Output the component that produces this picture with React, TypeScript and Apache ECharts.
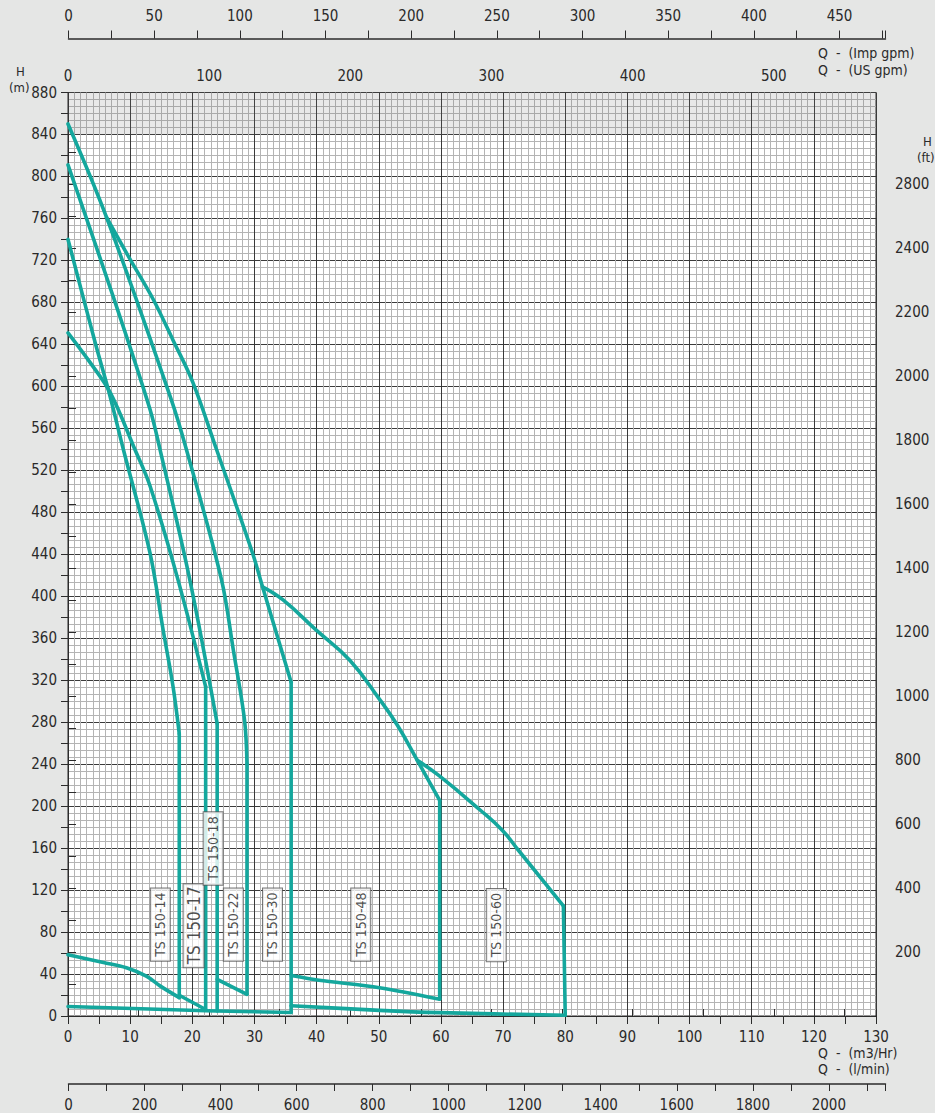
import React, { useEffect, useRef } from "react";
import * as echarts from "echarts";

// ---------- data (Q in m3/h, H in m) ----------
// upper (max-stage) curves
const ts14Upper = [[0, 740], [4.4, 641], [6.7, 592], [8.9, 540], [13.2, 441], [15.3, 368], [16.9, 314], [17.9, 269]];
const ts17Upper = [[0, 651], [3.4, 624], [6.8, 594], [10.75, 540], [13.2, 505], [17.7, 415.6], [22.15, 313.7]];
const ts18Upper = [[0, 811], [7.3, 685], [13.2, 578], [14.8, 540], [19.6, 415.6], [24.0, 278.7]];
const ts22Upper = [[0, 850], [6.2, 761], [16.6, 587.6], [19.05, 539.8], [24.7, 415.6], [26.6, 348.8], [28.4, 282], [28.8, 240]];
const ts30Upper = [[6.2, 761], [9.95, 721.4], [13.7, 683], [16.9, 644], [20.1, 603.6], [23.9, 539.8], [29.7, 441], [31.3, 409], [35.9, 318]];
const ts48Upper = [[31.3, 409], [34.6, 396.5], [39.9, 367.9], [45.3, 339.2], [50.1, 302], [53.0, 277], [56.2, 243.6], [59.8, 205.4]];
const ts60Upper = [[56.2, 243.6], [59.7, 229], [66.3, 196.3], [69.9, 176.8], [72.5, 157.7], [79.7, 105]];
// right-hand limits (max flow)
const ts14Limit = [[17.9, 269], [17.9, 17.5]];
const ts17Limit = [[22.15, 313.7], [22.15, 6.2]];
const ts18Limit = [[24.0, 278.7], [24.0, 4.8]];
const ts22Limit = [[28.8, 240], [28.8, 20.7]];
const ts30Limit = [[35.9, 318], [35.9, 3.3]];
const ts48Limit = [[59.8, 205.4], [59.8, 16]];
const ts60Limit = [[79.7, 105], [80.0, 0.7]];
// lower (min-stage) curves
const ts14Lower = [[0, 58.3], [5.7, 51], [9.4, 46], [12.6, 38], [14.8, 28.7], [17.9, 17.5]];
const ts17Lower = [[17.9, 19.8], [22.15, 6.2]];
const baseLower = [[0, 9], [22.15, 5], [24.0, 4.8], [35.9, 3.3]];
const ts22Lower = [[24.0, 35], [28.8, 20.7]];
const ts48Lower = [[35.9, 38.5], [40.4, 34.1], [50.1, 27], [59.8, 16]];
const ts60Lower = [[35.9, 9.8], [50.1, 5.4], [59.8, 3.2], [80.0, 0.7]];

const modelNames = ["TS 150-14", "TS 150-17", "TS 150-18", "TS 150-22", "TS 150-30", "TS 150-48", "TS 150-60"];
const modelLabelQ = [14.85, 20.2, 23.35, 26.6, 32.9, 47.1, 68.9];
const modelLabelH = [87, 86, 159.6, 87, 87, 87, 86.5];

const ftTickValues = [100, 200, 300, 400, 500, 600, 700, 800, 900, 1000, 1100, 1200, 1300, 1400, 1500, 1600, 1700, 1800, 1900, 2000, 2100, 2200, 2300, 2400, 2500, 2600, 2700];
const ftLabelValues = [200, 400, 600, 800, 1000, 1200, 1400, 1600, 1800, 2000, 2200, 2400, 2600];
const ftLabelTexts = ["200", "400", "600", "800", "1000", "1200", "1400", "1600", "1800", "2000", "2200", "2400", "2800"];

// ---------- styles ----------
const FONT = "'Liberation Sans Narrow', 'DejaVu Sans Condensed', 'Roboto Condensed', 'Liberation Sans', sans-serif";
const TEXT = "#2a2a2a";
const AXIS = "#2b2b2b";
const TEAL = "#14a79d";
const BG = "#e5e6e5";

const curve = (data: number[][], smooth: number | boolean = false) => ({
  type: "line",
  xAxisIndex: 0,
  yAxisIndex: 0,
  data,
  smooth,
  symbol: "none",
  showSymbol: false,
  silent: true,
  z: 3,
  lineStyle: { color: TEAL, width: 3.6, cap: "round", join: "round" },
});

const labelStyle = { fontFamily: FONT, fontSize: 15, color: TEXT };

export default function App() {
  const ref = useRef<HTMLDivElement>(null);
  useEffect(() => {
    const chart = echarts.init(ref.current!, null, { renderer: "svg", width: 935, height: 1113 });
    const option: any = {
      animation: false,
      backgroundColor: BG,
      grid: [
        { left: 68, right: 59, top: 92.5, bottom: 97, show: true, backgroundColor: "#ffffff", borderColor: AXIS, borderWidth: 1 },
        { left: 68.5, right: 49.5, top: 37.5, height: 1 },
        { left: 68.5, right: 49.5, top: 1083, height: 1 },
      ],
      xAxis: [
        {
          type: "value", gridIndex: 0, position: "bottom", min: 0, max: 130, interval: 5,
          axisLine: { show: true, lineStyle: { color: AXIS } },
          axisTick: { show: true, length: 8, lineStyle: { color: AXIS } },
          axisLabel: { ...labelStyle, margin: 13, formatter: (v: number) => (v % 10 === 0 ? String(v) : "") },
          splitLine: { show: false },
        },
        {
          type: "value", gridIndex: 0, position: "bottom", min: 0, max: 130, interval: 10,
          axisLine: { show: false }, axisTick: { show: false }, axisLabel: { show: false },
          splitLine: { show: true, lineStyle: { color: "#3a3a3a", width: 1 } },
          minorTick: { show: false, splitNumber: 10 },
          minorSplitLine: { show: true, lineStyle: { color: "#b4b4b4", width: 1 } },
        },
        {
          type: "value", gridIndex: 0, position: "top", min: 0, max: 572.4, interval: 50,
          axisLine: { show: false },
          axisTick: { show: true, length: 7, lineStyle: { color: AXIS } },
          axisLabel: { ...labelStyle, margin: 9, formatter: (v: number) => (v % 100 === 0 && v <= 500 ? String(v) : "") },
          splitLine: { show: false },
        },
        {
          type: "value", gridIndex: 1, position: "top", min: 0, max: 476.8, interval: 25,
          axisLine: { show: true, lineStyle: { color: AXIS, width: 1.5 } },
          axisTick: { show: true, length: 8, lineStyle: { color: AXIS } },
          axisLabel: { ...labelStyle, margin: 14, formatter: (v: number) => (v % 50 === 0 && v <= 450 ? String(v) : "") },
          splitLine: { show: false },
        },
        {
          type: "value", gridIndex: 2, position: "bottom", min: 0, max: 2149, interval: 100,
          axisLine: { show: true, lineStyle: { color: AXIS, width: 1.5 } },
          axisTick: { show: true, length: 7, lineStyle: { color: AXIS } },
          axisLabel: { ...labelStyle, margin: 13, formatter: (v: number) => (v % 200 === 0 && v <= 2000 ? String(v) : "") },
          splitLine: { show: false },
        },
      ],
      yAxis: [
        {
          type: "value", gridIndex: 0, position: "left", min: 0, max: 880, interval: 20,
          axisLine: { show: true, lineStyle: { color: AXIS } },
          axisTick: { show: true, length: 7, lineStyle: { color: AXIS } },
          axisLabel: { ...labelStyle, margin: 11, formatter: (v: number) => (v % 40 === 0 ? String(v) : "") },
          splitLine: { show: false },
        },
        {
          type: "value", gridIndex: 0, position: "left", min: 0, max: 880, interval: 40,
          axisLine: { show: false }, axisTick: { show: false }, axisLabel: { show: false },
          splitLine: { show: true, lineStyle: { color: "#3a3a3a", width: 1 } },
          minorTick: { show: false, splitNumber: 6 },
          minorSplitLine: { show: true, lineStyle: { color: "#b4b4b4", width: 1 } },
        },
        {
          type: "value", gridIndex: 0, position: "right", min: 0, max: 880 / 0.3048,
          axisLine: { show: true, lineStyle: { color: AXIS } },
          axisTick: { show: true, length: 8, customValues: ftTickValues, lineStyle: { color: AXIS } },
          axisLabel: {
            ...labelStyle, margin: 19, customValues: ftLabelValues,
            formatter: (v: number) => {
              const i = ftLabelValues.indexOf(Math.round(v));
              return i >= 0 ? ftLabelTexts[i] : "";
            },
          },
          splitLine: { show: false },
        },
        { type: "value", gridIndex: 1, show: false, min: 0, max: 1 },
        { type: "value", gridIndex: 2, show: false, min: 0, max: 1 },
      ],
      series: [
        {
          type: "line", xAxisIndex: 0, yAxisIndex: 0, data: [], silent: true, z: 1,
          markArea: {
            silent: true,
            itemStyle: { color: "rgba(110,110,110,0.16)" },
            data: [[{ yAxis: 840 }, { yAxis: 880 }]],
          },
        },
        curve(ts14Upper, 0.35),
        curve(ts17Upper, 0.35),
        curve(ts18Upper, 0.35),
        curve(ts22Upper, 0.35),
        curve(ts30Upper, 0.35),
        curve(ts48Upper, 0.45),
        curve(ts60Upper, 0.45),
        curve(ts14Limit),
        curve(ts17Limit),
        curve(ts18Limit),
        curve(ts22Limit),
        curve(ts30Limit),
        curve(ts48Limit),
        curve(ts60Limit),
        curve(ts14Lower, 0.35),
        curve(ts17Lower),
        curve(baseLower),
        curve(ts22Lower),
        curve(ts48Lower, 0.3),
        curve(ts60Lower, 0.3),
        {
          type: "scatter", xAxisIndex: 0, yAxisIndex: 0, symbolSize: 0, silent: true, z: 10,
          data: modelNames.map((n, i) => ({
            name: n,
            value: [modelLabelQ[i], modelLabelH[i]],
            label: i === 1 ? { fontSize: 17, padding: [2, 2, 1, 3] } : undefined,
          })),
          label: {
            show: true, position: "inside", rotate: 90, formatter: "{b}",
            fontFamily: FONT, fontSize: 14, color: "#1e1e1e",
            backgroundColor: "#ffffff", borderColor: "#555555", borderWidth: 1,
            padding: [3, 4, 2, 4],
          },
        },
      ],
      graphic: [
        { type: "text", left: 16, top: 65, style: { text: "H", ...labelStyle, fontSize: 13, fill: TEXT } },
        { type: "text", left: 9, top: 81, style: { text: "(m)", ...labelStyle, fontSize: 13, fill: TEXT } },
        { type: "text", left: 923, top: 135, style: { text: "H", ...labelStyle, fontSize: 13, fill: TEXT } },
        { type: "text", left: 917, top: 151, style: { text: "(ft)", ...labelStyle, fontSize: 13, fill: TEXT } },
        { type: "text", left: 818, top: 46, style: { text: "Q  -  (Imp gpm)", ...labelStyle, fontSize: 14, fill: TEXT } },
        { type: "text", left: 818, top: 63, style: { text: "Q  -  (US gpm)", ...labelStyle, fontSize: 14, fill: TEXT } },
        { type: "text", left: 818, top: 1046, style: { text: "Q  -  (m3/Hr)", ...labelStyle, fontSize: 14, fill: TEXT } },
        { type: "text", left: 818, top: 1062, style: { text: "Q  -  (l/min)", ...labelStyle, fontSize: 14, fill: TEXT } },
      ],
    };
    chart.setOption(option);
    return () => chart.dispose();
  }, []);
  return (
    <div
      ref={ref}
      style={{ position: "fixed", left: 0, top: 0, width: 935, height: 1113, background: BG }}
    />
  );
}
